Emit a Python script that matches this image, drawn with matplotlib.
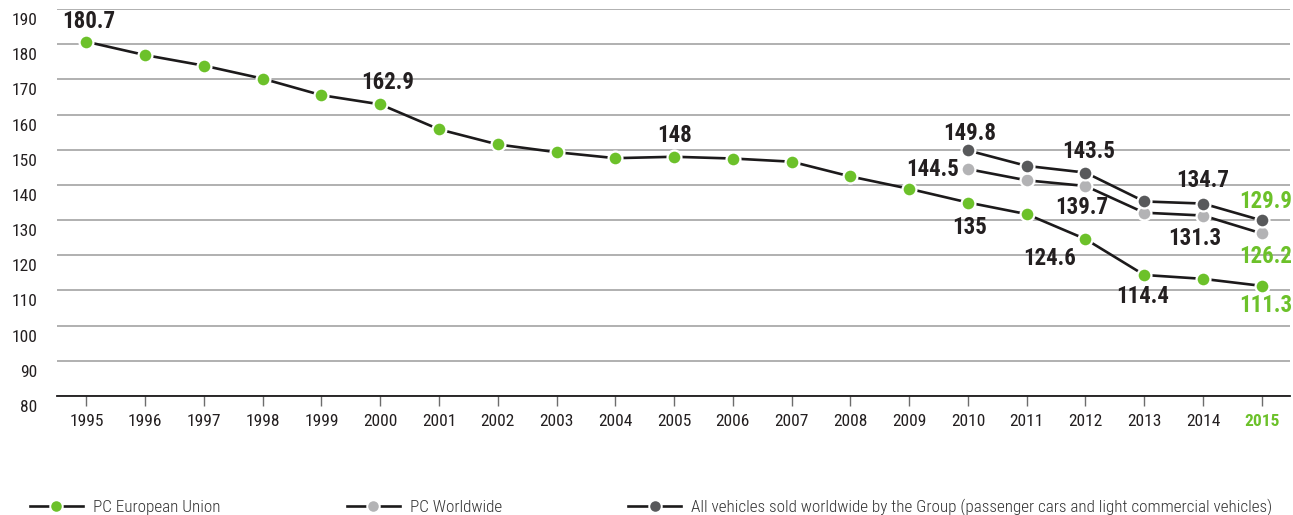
import matplotlib
matplotlib.use("Agg")
import matplotlib.pyplot as plt
from matplotlib.lines import Line2D
from matplotlib.transforms import ScaledTranslation

plt.rcParams['font.family'] = ['Roboto Condensed', 'DejaVu Sans']

# CO2 emissions (g/km) of the new vehicle fleet
years = list(range(1995, 2016))
eu_values = [180.7, 176.9, 173.9, 170.2, 165.5, 162.9, 155.8, 151.5, 149.3, 147.6,
             148.0, 147.5, 146.6, 142.4, 138.9, 135.0, 131.7, 124.6, 114.4, 113.3, 111.3]
ww_years = [2010, 2011, 2012, 2013, 2014, 2015]
ww_values = [144.5, 141.3, 139.7, 132.1, 131.3, 126.2]
all_years = [2010, 2011, 2012, 2013, 2014, 2015]
all_values = [149.8, 145.4, 143.5, 135.3, 134.7, 129.9]

series_names = ["PC European Union", "PC Worldwide",
                "All vehicles sold worldwide by the Group (passenger cars and light commercial vehicles)"]
y_ticks = [80, 90, 100, 110, 120, 130, 140, 150, 160, 170, 180, 190]

GREEN = "#6cc12a"
LIGHT = "#b3b3b5"
DARK = "#58595b"
LINE = "#1c1a1b"
TEXT = "#231f20"

fig = plt.figure(figsize=(12.93, 5.15), dpi=100)
ax = fig.add_axes([57 / 1293, 1 - 396 / 515, (1290 - 57) / 1293, (396 - 9) / 515])

ax.set_xlim(1994.5, 2015.48)
ax.set_ylim(80, 190)

mk = dict(marker="o", markersize=10, markeredgecolor="white", markeredgewidth=1.6,
          color=LINE, linewidth=1.9, clip_on=False, zorder=3)
ax.plot(years, eu_values, markerfacecolor=GREEN, **mk)
ax.plot(ww_years, ww_values, markerfacecolor=LIGHT, **mk)
ax.plot(all_years, all_values, markerfacecolor=DARK, **mk)

# grid and axes
ax.set_yticks(y_ticks)
ax.yaxis.grid(True, color="#a3a3a3", linewidth=1.2)
ax.set_axisbelow(True)
for s in ["left", "right", "top"]:
    ax.spines[s].set_visible(False)
ax.spines["bottom"].set_color("#1c1a1b")
ax.spines["bottom"].set_linewidth(1.3)
ax.spines["bottom"].set_zorder(2)

ax.tick_params(axis="y", length=0, pad=14, labelsize=12.5, labelcolor=TEXT)
ax.set_xticks(years)
ax.set_xticklabels([str(y) for y in years])
ax.tick_params(axis="x", direction="out", length=7, width=1, color="#6d6d6d",
               pad=6, labelsize=12.5, labelcolor=TEXT)
shift = ScaledTranslation(0, -0.10, fig.dpi_scale_trans)
for lab in ax.get_yticklabels():
    lab.set_transform(lab.get_transform() + shift)
last = ax.get_xticklabels()[-1]
last.set_color(GREEN)
last.set_fontweight("bold")

# value labels next to selected points
def label(xs, ys, year, dx, dy, ha="center", color=TEXT):
    v = ys[xs.index(year)]
    ax.annotate(f"{v:g}", xy=(year, v), xytext=(dx * 0.72, -dy * 0.72),
                textcoords="offset points", ha=ha, va="center",
                fontsize=16.5, fontweight="bold", color=color, zorder=4,
                annotation_clip=False)

label(years, eu_values, 1995, 2, -20)
label(years, eu_values, 2000, 7, -22)
label(years, eu_values, 2005, 0, -21)
label(years, eu_values, 2010, 2, 25)
label(years, eu_values, 2012, -36, 19)
label(years, eu_values, 2013, -2, 22)
label(years, eu_values, 2015, 4, 20, color=GREEN)
label(ww_years, ww_values, 2010, -9, 0, ha="right")
label(ww_years, ww_values, 2012, -4, 22)
label(ww_years, ww_values, 2014, -8, 23)
label(ww_years, ww_values, 2015, 4, 23, color=GREEN)
label(all_years, all_values, 2010, 2, -17)
label(all_years, all_values, 2012, 3, -21)
label(all_years, all_values, 2014, 0, -23)
label(all_years, all_values, 2015, 4, -19, color=GREEN)

# legend
handles = [Line2D([], [], color=LINE, linewidth=1.9, marker="o", markersize=9,
                  markerfacecolor=c, markeredgecolor="white", markeredgewidth=1.4)
           for c in (GREEN, LIGHT, DARK)]
leg = fig.legend(handles, series_names, loc="center left", ncol=3,
                 bbox_to_anchor=(30 / 1293, 8 / 515), bbox_transform=fig.transFigure,
                 frameon=False, prop={"size": 12.3, "weight": 300}, borderpad=0,
                 borderaxespad=0, handlelength=3.1, handletextpad=0.58, columnspacing=7.4)
for t in leg.get_texts():
    t.set_color("#333333")

fig.savefig("out.png", dpi=100)
